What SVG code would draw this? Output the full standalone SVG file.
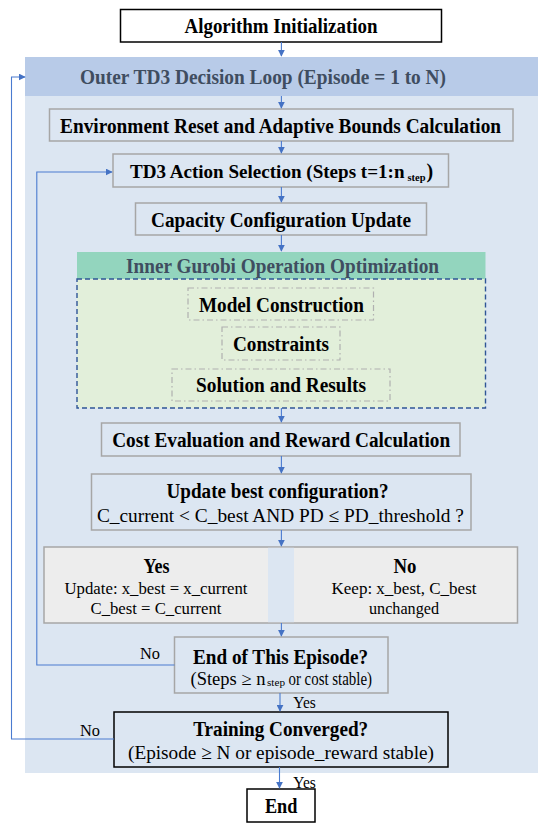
<svg xmlns="http://www.w3.org/2000/svg" width="550" height="832" viewBox="0 0 550 832">
<style>
text{font-family:"Liberation Serif","Times New Roman",serif;fill:#000;text-anchor:middle}
.b{font-weight:bold;font-size:20px}
.r{font-size:19px}
.s{font-size:17px}
.st{text-anchor:start}
.lbl{font-size:17px;text-anchor:start}
.hd{fill:#3f4d60}
.gbox{fill:#dce6f2;stroke:#a6a6a6;stroke-width:1.5}
.kbox{stroke:#000;stroke-width:1.5}
.dd{fill:none;stroke:#b0b0b0;stroke-width:1.2;stroke-dasharray:6 3 1.5 3}
.ln{fill:none;stroke:#4a7bd0;stroke-width:1.1}
</style>
<defs>
<marker id="ah" viewBox="0 0 10 10" refX="9" refY="5" markerWidth="7" markerHeight="7" markerUnits="userSpaceOnUse" orient="auto">
<path d="M0,0 L10,5 L0,10 z" fill="#4472c4"/>
</marker>
</defs>
<rect width="550" height="832" fill="#fff"/>

<g id="outer-loop">
<rect x="25" y="57" width="513" height="716" fill="#dce6f2"/>
<rect x="25" y="57" width="513" height="39" fill="#b8cbe8"/>
<text class="b hd" x="263" y="84" textLength="366" lengthAdjust="spacingAndGlyphs">Outer TD3 Decision Loop (Episode = 1 to N)</text>
</g>

<g id="init">
<rect class="kbox" x="120.5" y="9.5" width="321" height="32.5" fill="#fff"/>
<text class="b" x="281" y="33" textLength="193" lengthAdjust="spacingAndGlyphs">Algorithm Initialization</text>
</g>

<g id="env-reset">
<rect class="gbox" x="49.5" y="109" width="463.5" height="32"/>
<text class="b" x="280.6" y="133" textLength="441" lengthAdjust="spacingAndGlyphs">Environment Reset and Adaptive Bounds Calculation</text>
</g>

<g id="action">
<rect class="gbox" x="113" y="154" width="335.5" height="33"/>
<text class="st" x="130" y="178" font-weight="bold" font-size="19" textLength="274.5" lengthAdjust="spacingAndGlyphs">TD3 Action Selection (Steps t=1:n</text>
<text class="st" x="407.5" y="181" font-weight="bold" font-size="10.5" textLength="18" lengthAdjust="spacingAndGlyphs">step</text>
<text class="b st" x="426.5" y="178">)</text>
</g>

<g id="capacity">
<rect class="gbox" x="135.5" y="203" width="291" height="32"/>
<text class="b" x="281" y="227" textLength="260" lengthAdjust="spacingAndGlyphs">Capacity Configuration Update</text>
</g>

<g id="gurobi">
<rect x="77" y="252" width="408.5" height="27" fill="#93d5be"/>
<text class="b hd" x="282.5" y="273" textLength="313" lengthAdjust="spacingAndGlyphs">Inner Gurobi Operation Optimization</text>
<rect x="77" y="279" width="408.5" height="129" fill="#e2efda" stroke="#2f5597" stroke-width="1.4" stroke-dasharray="5 3"/>
</g>

<g id="model">
<rect class="dd" x="188" y="288" width="185.5" height="32"/>
<text class="b" x="281.4" y="312" textLength="165" lengthAdjust="spacingAndGlyphs">Model Construction</text>
</g>

<g id="constraints">
<rect class="dd" x="222" y="327" width="118" height="33"/>
<text class="b" x="281" y="351" textLength="96" lengthAdjust="spacingAndGlyphs">Constraints</text>
</g>

<g id="solution">
<rect class="dd" x="172" y="369" width="218" height="32"/>
<text class="b" x="281" y="392" textLength="170" lengthAdjust="spacingAndGlyphs">Solution and Results</text>
</g>

<g id="cost">
<rect class="gbox" x="101.5" y="423" width="358.5" height="33"/>
<text class="b" x="281.2" y="447" textLength="338" lengthAdjust="spacingAndGlyphs">Cost Evaluation and Reward Calculation</text>
</g>

<g id="update-decision">
<rect class="gbox" x="91.5" y="474" width="379.5" height="56"/>
<text class="b" x="277.5" y="498" textLength="222" lengthAdjust="spacingAndGlyphs">Update best configuration?</text>
<text class="r" x="280.4" y="521.5" textLength="367" lengthAdjust="spacingAndGlyphs">C_current &lt; C_best AND PD ≤ PD_threshold ?</text>
</g>

<g id="yes-no">
<rect x="44" y="547" width="473.5" height="76" fill="#ededed" stroke="#a6a6a6" stroke-width="1.5"/>
<rect x="268" y="547.8" width="26" height="74.4" fill="#dce6f2"/>
<text class="b" x="156.6" y="573" textLength="26" lengthAdjust="spacingAndGlyphs">Yes</text>
<text class="s" x="156" y="593.5" textLength="183" lengthAdjust="spacingAndGlyphs">Update: x_best = x_current</text>
<text class="s" x="156" y="613.5" textLength="131" lengthAdjust="spacingAndGlyphs">C_best = C_current</text>
<text class="b" x="405" y="573" textLength="23" lengthAdjust="spacingAndGlyphs">No</text>
<text class="s" x="404" y="593.5" textLength="145" lengthAdjust="spacingAndGlyphs">Keep: x_best, C_best</text>
<text class="s" x="404" y="613.5" textLength="70" lengthAdjust="spacingAndGlyphs">unchanged</text>
</g>

<g id="episode-end">
<rect class="gbox" x="174.5" y="637" width="213.5" height="56"/>
<text class="b" x="280.5" y="664" textLength="175" lengthAdjust="spacingAndGlyphs">End of This Episode?</text>
<text class="st" x="190.5" y="685" font-size="18" textLength="75" lengthAdjust="spacingAndGlyphs">(Steps ≥ n</text>
<text class="st" x="267" y="686" font-size="10.5" textLength="18" lengthAdjust="spacingAndGlyphs">step</text>
<text class="st" x="288.5" y="685" font-size="18" textLength="83.5" lengthAdjust="spacingAndGlyphs">or cost stable)</text>
</g>

<g id="converged">
<rect class="kbox" x="114" y="712" width="334" height="55" fill="#dce6f2"/>
<text class="b" x="280.7" y="736" textLength="175" lengthAdjust="spacingAndGlyphs">Training Converged?</text>
<text class="r" x="281" y="759" textLength="306" lengthAdjust="spacingAndGlyphs">(Episode ≥ N or episode_reward stable)</text>
</g>

<g id="end">
<rect class="kbox" x="247" y="789" width="68" height="33" fill="#fff"/>
<text class="b" x="281.2" y="813" textLength="32.5" lengthAdjust="spacingAndGlyphs">End</text>
</g>

<g id="connectors">
<line class="ln" x1="281.4" y1="42" x2="281.4" y2="56" marker-end="url(#ah)"/>
<line class="ln" x1="281.4" y1="96" x2="281.4" y2="108" marker-end="url(#ah)"/>
<line class="ln" x1="281.4" y1="141" x2="281.4" y2="153" marker-end="url(#ah)"/>
<line class="ln" x1="281.4" y1="187" x2="281.4" y2="202" marker-end="url(#ah)"/>
<line class="ln" x1="281.4" y1="235" x2="281.4" y2="251" marker-end="url(#ah)"/>
<line class="ln" x1="281.4" y1="408" x2="281.4" y2="422" marker-end="url(#ah)"/>
<line class="ln" x1="281.4" y1="456" x2="281.4" y2="473" marker-end="url(#ah)"/>
<line class="ln" x1="281.4" y1="530" x2="281.4" y2="546" marker-end="url(#ah)"/>
<line class="ln" x1="281.4" y1="623" x2="281.4" y2="636" marker-end="url(#ah)"/>
<line class="ln" x1="280" y1="693" x2="280" y2="711" marker-end="url(#ah)"/>
<line class="ln" x1="279.5" y1="767" x2="279.5" y2="788" marker-end="url(#ah)"/>
<polyline class="ln" points="174.5,665 36.8,665 36.8,172 112,172" marker-end="url(#ah)"/>
<polyline class="ln" points="114,739 11.5,739 11.5,77 25,77" marker-end="url(#ah)"/>
<text class="lbl" x="140" y="658.5" textLength="20" lengthAdjust="spacingAndGlyphs">No</text>
<text class="lbl" x="293.3" y="707.5" textLength="22.5" lengthAdjust="spacingAndGlyphs">Yes</text>
<text class="lbl" x="80" y="735.5" textLength="20" lengthAdjust="spacingAndGlyphs">No</text>
<text class="lbl" x="293.3" y="787.5" textLength="22.5" lengthAdjust="spacingAndGlyphs">Yes</text>
</g>
</svg>
